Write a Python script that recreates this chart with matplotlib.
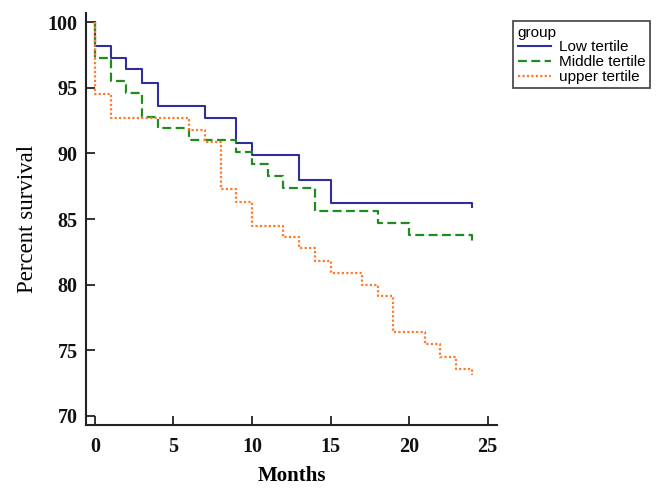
import matplotlib
matplotlib.use("Agg")
import matplotlib.pyplot as plt

# Data (Kaplan-Meier style step curves)
low_t = [0, 0, 1, 2, 3, 4, 7, 9, 10, 13, 15, 24, 24]
low_s = [100, 98.2, 97.3, 96.4, 95.4, 93.6, 92.7, 90.8, 89.9, 88.0, 86.2, 86.2, 85.9]

mid_t = [0, 0, 1, 2, 3, 4, 6, 9, 10, 11, 12, 14, 18, 20, 24, 24]
mid_s = [100, 97.3, 95.5, 94.6, 92.8, 91.9, 91.0, 90.1, 89.2, 88.3, 87.4, 85.6, 84.7, 83.8, 83.8, 83.3]

up_t = [0, 0, 1, 6, 7, 8, 9, 10, 12, 13, 14, 15, 17, 18, 19, 21, 22, 23, 24, 24]
up_s = [100, 94.5, 92.7, 91.8, 90.9, 87.3, 86.3, 84.5, 83.6, 82.8, 81.8, 80.9, 80.0, 79.1, 76.4, 75.5, 74.5, 73.6, 73.6, 73.1]

labels = ["Low tertile", "Middle tertile", "upper tertile"]
xticks = [0, 5, 10, 15, 20, 25]
yticks = [70, 75, 80, 85, 90, 95, 100]

fig = plt.figure(figsize=(6.61, 4.92), dpi=100)
ax = fig.add_axes([86/661, 1-425/492, (497-86)/661, (425-13)/492])

l1, = ax.step(low_t, low_s, where="post", color="#2f2f9c", lw=1.5, label=labels[0])
l2, = ax.step(mid_t, mid_s, where="post", color="#1e8c1e", lw=1.6, linestyle=(0, (4, 2)), label=labels[1])
l3, = ax.step(up_t, up_s, where="post", color="#ff7a2a", lw=1.6, linestyle=(0, (1, 1)), label=labels[2])

ax.set_xlim(-0.57, 25.6)
ax.set_ylim(69.3, 100.7)
ax.set_xticks(xticks)
ax.set_yticks(yticks)

for s in ["top", "right"]:
    ax.spines[s].set_visible(False)
for s in ["left", "bottom"]:
    ax.spines[s].set_linewidth(1.5)
    ax.spines[s].set_color("#222222")

serif = ["Liberation Serif", "DejaVu Serif"]
ax.tick_params(direction="in", length=6.5, width=1.3, colors="#222222")
ax.tick_params(axis="y", pad=6)
ax.tick_params(axis="x", pad=9)
for lab in ax.get_xticklabels() + ax.get_yticklabels():
    lab.set_fontfamily(serif)
    lab.set_fontweight("bold")
    lab.set_fontsize(14.5)
    lab.set_color("#111111")

ax.set_xlabel("Months", fontfamily=serif, fontweight="bold", fontsize=15, labelpad=6)
ax.set_ylabel("Percent survival", fontfamily=serif, fontsize=16.5, labelpad=7)

sans = ["Liberation Sans", "DejaVu Sans"]
leg = fig.legend(handles=[l1, l2, l3], labels=labels, title="group",
                 loc="upper left", bbox_to_anchor=(513/661, 1-21/492),
                 frameon=True, fancybox=False, edgecolor="#222222",
                 prop={"family": sans, "size": 11},
                 title_fontproperties={"family": sans, "size": 11},
                 handlelength=2.2, handletextpad=0.5, labelspacing=0.05,
                 borderpad=0.3, borderaxespad=0)
leg._legend_box.align = "left"
leg.get_frame().set_linewidth(1.3)

fig.savefig("out.png", dpi=100)
